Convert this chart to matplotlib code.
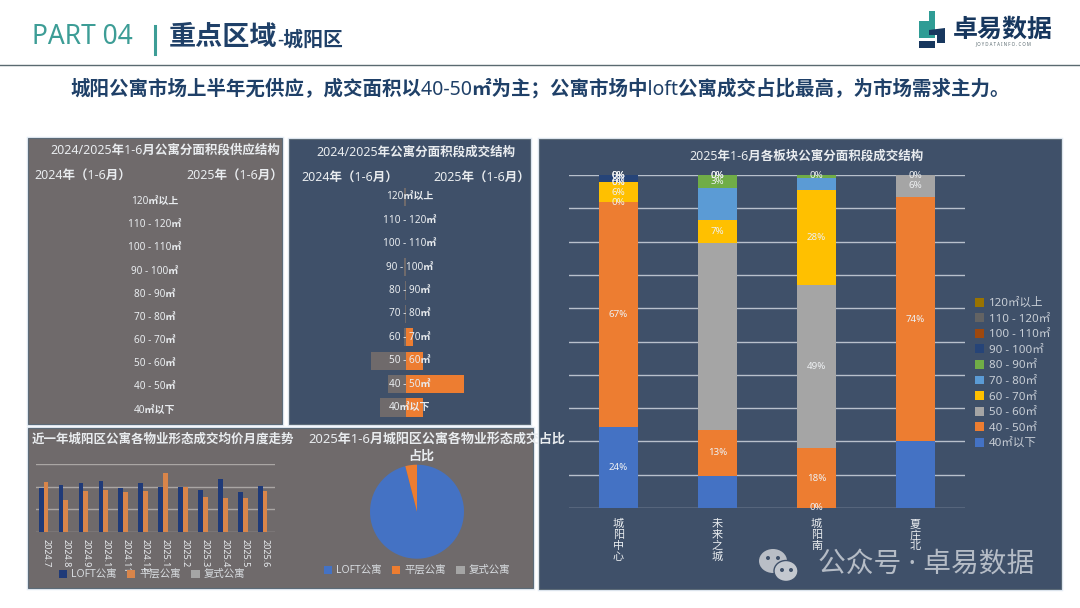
import matplotlib

matplotlib.use("Agg")
import matplotlib.pyplot as plt
from matplotlib.patches import Rectangle, Polygon, Ellipse

plt.rcParams["font.family"] = ["Noto Sans", "Noto Sans CJK SC", "DejaVu Sans"]

W, H = 1080, 608

# area bands, bottom row first
area_bands = [
    "40㎡以下", "40 - 50㎡", "50 - 60㎡", "60 - 70㎡", "70 - 80㎡",
    "80 - 90㎡", "90 - 100㎡", "100 - 110㎡", "110 - 120㎡", "120㎡以上",
]

# supply structure (nothing was supplied)
supply_2024 = [0, 0, 0, 0, 0, 0, 0, 0, 0, 0]
supply_2025 = [0, 0, 0, 0, 0, 0, 0, 0, 0, 0]

# deal structure, %
deal_2024 = [18, 12.4, 24, 1.4, 0.7, 0.7, 1.4, 0.2, 0, 1.4]
deal_2025 = [11.4, 40, 12, 4.5, 0, 0, 0, 0, 0, 0]

# monthly prices
months = [
    "2024.7", "2024.8", "2024.9", "2024.1", "2024.11", "2024.12",
    "2025.1", "2025.2", "2025.3", "2025.4", "2025.5", "2025.6",
]
price_loft = [19260, 20740, 21630, 22520, 19560, 21630, 19700, 19850, 18520, 23260, 17780, 20300]
price_flat = [21930, 14070, 18220, 18370, 17480, 18070, 26070, 19850, 15410, 15110, 15110, 18220]
price_duplex = [0, 0, 0, 0, 0, 0, 0, 0, 0, 0, 0, 0]

# property type share
type_names = ["LOFT公寓", "平层公寓", "复式公寓"]
type_share = [96, 4, 0]

# stacked structure by sub-area, %
districts = ["城阳中心", "未来之城", "城阳南", "夏庄北"]
stack_values = [
    [24.3, 9.7, 0, 20],
    [67.5, 13.8, 18, 73.5],
    [0, 56, 49, 6.5],
    [6, 7, 28.5, 0],
    [0, 9.5, 3.6, 0],
    [0, 4, 0.9, 0],
    [2.2, 0, 0, 0],
    [0, 0, 0, 0],
    [0, 0, 0, 0],
    [0, 0, 0, 0],
]
stack_labels = [
    ["24%", "", "0%", ""],
    ["67%", "13%", "18%", "74%"],
    ["0%", "", "49%", "6%"],
    ["6%", "7%", "28%", ""],
    ["0%", "", "", ""],
    ["0%", "3%", "", ""],
    ["2%", "0%", "", ""],
    ["0%", "", "", ""],
    ["0%", "", "", ""],
    ["0%", "0%", "0%", "0%"],
]
stack_colors = [
    "#4472c4", "#ed7d31", "#a5a5a5", "#ffc000", "#5b9bd5",
    "#70ad47", "#264478", "#9e480e", "#636363", "#997300",
]

GRAY = "#6f6a6b"
SLATE = "#3f5069"
TEXT = "#e9ecef"
NAVY = "#1f4068"
TEAL = "#3d9d96"


def px_axes(x0, y0, x1, y1):
    ax = fig.add_axes([x0 / W, 1 - y1 / H, (x1 - x0) / W, (y1 - y0) / H])
    ax.patch.set_alpha(0)
    return ax


def panel(x0, y0, x1, y1, color):
    bg.add_patch(Rectangle((x0, y0), x1 - x0, y1 - y0, fc="none", ec="#e4ecf4", lw=2.5))
    rect = Rectangle((x0, y0), x1 - x0, y1 - y0, fc=color, ec="#5c6b78", lw=0.8)
    bg.add_patch(rect)
    return rect


def clipped_text(x, y, s, rect, **kw):
    t = bg.text(x, y, s, color=TEXT, fontweight="bold", va="center", **kw)
    t.set_clip_path(rect)
    return t


def butterfly(ax, left, right, center_px, label_px, px_per_unit, span):
    rows = range(len(area_bands))
    ax.barh(rows, [-v for v in left], height=0.78, color="#6f6a6b")
    ax.barh(rows, right, height=0.78, color="#ed7d31")
    ax.set_xlim(-(center_px - span[0]) / px_per_unit, (span[1] - center_px) / px_per_unit)
    ax.set_ylim(-0.5, 9.5)
    ax.axis("off")
    for i, name in enumerate(area_bands):
        ax.text((label_px - center_px) / px_per_unit, i, name, color=TEXT, fontsize=7.2,
                fontweight="bold", ha="center", va="center")


fig = plt.figure(figsize=(W / 100, H / 100), dpi=100, facecolor="white")
bg = fig.add_axes([0, 0, 1, 1])
bg.set_xlim(0, W)
bg.set_ylim(H, 0)
bg.axis("off")

# header
bg.text(32, 37, "PART 04", color=TEAL, fontsize=19, fontweight="bold", va="center")
bg.plot([155, 155], [26, 54], color=TEAL, lw=2.2)
bg.text(169, 38, "重点区域", color=NAVY, fontsize=19.5, fontweight="bold", va="center")
bg.text(277, 41, "-城阳区", color=NAVY, fontsize=14.3, fontweight="bold", va="center", ha="left")
bg.plot([0, W], [64.5, 64.5], color="#5a6a70", lw=1)
bg.text(540, 89, "城阳公寓市场上半年无供应，成交面积以40-50㎡为主；公寓市场中loft公寓成交占比最高，为市场需求主力。",
        color=NAVY, fontsize=14, fontweight="bold", ha="center", va="center")

# logo
bg.add_patch(Polygon([(919, 21), (929, 21), (929, 11), (935, 11), (935, 38), (919, 38)], fc="#2f9c95"))
bg.add_patch(Polygon([(929, 30), (945, 28), (945, 43), (937, 43), (937, 35), (929, 35)], fc="#17375e"))
bg.add_patch(Polygon([(919, 41), (935, 41), (935, 48), (919, 48)], fc="#17375e"))
bg.text(1003, 30, "卓易数据", color="#17375e", fontsize=18, fontweight="bold", ha="center", va="center")
bg.text(1003, 44, "J O Y D A T A I N F O . C O M", color="#5a6a70", fontsize=3.2, ha="center", va="center")

# panels
rect1 = panel(28, 138, 282, 424, GRAY)
rect2 = panel(289, 139, 530, 424, SLATE)
rect3 = panel(28, 428, 533, 588, GRAY)
rect4 = panel(539, 139, 1061, 589, SLATE)

# supply panel
clipped_text(50, 150, "2024/2025年1-6月公寓分面积段供应结构", rect1, fontsize=9)
clipped_text(34, 176, "2024年（1-6月）", rect1, fontsize=9)
clipped_text(186, 176, "2025年（1-6月）", rect1, fontsize=9)
ax1 = px_axes(28, 190, 282, 421.6)
butterfly(ax1, supply_2024, supply_2025, 155, 155, 1.45, (28, 282))

# deal panel
clipped_text(416, 152, "2024/2025年公寓分面积段成交结构", rect2, fontsize=9, ha="center")
clipped_text(301, 178, "2024年（1-6月）", rect2, fontsize=9)
clipped_text(433, 178, "2025年（1-6月）", rect2, fontsize=9)
ax2 = px_axes(289, 185.3, 530, 419.2)
butterfly(ax2, deal_2024, deal_2025, 406, 410, 1.45, (289, 530))

# monthly price panel
clipped_text(32, 439, "近一年城阳区公寓各物业形态成交均价月度走势", rect3, fontsize=9)
ax3 = px_axes(36, 464, 275, 531.7)
x = list(range(len(months)))
bw = 0.24
ax3.set_axisbelow(True)
ax3.bar([i - bw for i in x], price_loft, bw, color="#1f3a78", label=type_names[0])
ax3.bar(x, price_flat, bw, color="#d9854a", label=type_names[1])
ax3.bar([i + bw for i in x], price_duplex, bw, color="#a5a5a5", label=type_names[2])
ax3.set_xlim(-0.5, 11.5)
ax3.set_ylim(0, 30000)
ax3.set_yticks([0, 10000, 20000, 30000])
ax3.set_yticklabels([])
ax3.grid(axis="y", color="#aaa6a4", lw=1)
ax3.set_xticks(x)
ax3.set_xticklabels(months, rotation=270, fontsize=6.5, color=TEXT)
ax3.tick_params(length=0, pad=5)
for s in ax3.spines.values():
    s.set_visible(False)
ax3.legend(loc="center", bbox_to_anchor=(116 / 239, -43 / 67.7), ncol=3, frameon=False,
           fontsize=7.5, labelcolor="#d8dce0", handlelength=0.8, handleheight=0.8,
           columnspacing=1.0, handletextpad=0.4)

# share panel
clipped_text(308, 439, "2025年1-6月城阳区公寓各物业形态成交占比", rect3, fontsize=9.4)
clipped_text(421, 456, "占比", rect3, fontsize=9.4, ha="center")
ax4 = px_axes(370, 464.7, 464, 558.7)
wedges, _ = ax4.pie(type_share, startangle=90, counterclock=False,
                    colors=["#4472c4", "#ed7d31", "#a5a5a5"], radius=1)
ax4.set_xlim(-1, 1)
ax4.set_ylim(-1, 1)
ax4.legend(wedges, type_names, loc="center", bbox_to_anchor=(0.5, -0.13), ncol=3, frameon=False,
           fontsize=7.5, labelcolor="#d8dce0", handlelength=0.8, handleheight=0.8,
           columnspacing=1.0, handletextpad=0.4)

# stacked panel
clipped_text(807, 156, "2025年1-6月各板块公寓分面积段成交结构", rect4, fontsize=9, ha="center")
ax5 = px_axes(569, 175, 965, 508)
x5 = list(range(len(districts)))
bottom = [0, 0, 0, 0]
for name, vals, labs, col in zip(area_bands, stack_values, stack_labels, stack_colors):
    bars = ax5.bar(x5, vals, 0.404, bottom=bottom, color=col, label=name)
    ax5.bar_label(bars, labels=labs, label_type="center", color="#eef0f2", fontsize=7)
    bottom = [b + v for b, v in zip(bottom, vals)]
ax5.set_axisbelow(True)
ax5.set_xlim(-0.5, 3.5)
ax5.set_ylim(0, 100)
ax5.set_yticks(range(0, 101, 10))
ax5.set_yticklabels([])
ax5.grid(axis="y", color="#b8c0cc", lw=1)
ax5.set_xticks(x5)
ax5.set_xticklabels(["\n".join(d) for d in districts], fontsize=8, color=TEXT, linespacing=1.0)
ax5.tick_params(length=0, pad=8)
for s in ax5.spines.values():
    s.set_visible(False)
handles, labels = ax5.get_legend_handles_labels()
ax5.legend(handles[::-1], labels[::-1], loc="center left", bbox_to_anchor=(406 / 396, 0.5 - (373.5 - 341.5) / 333),
           frameon=False, fontsize=8.3, labelcolor="#c8ced6", handlelength=0.8, handleheight=0.8,
           labelspacing=0.36, handletextpad=0.4, borderpad=0, borderaxespad=0)

# watermark
mark = fig.add_axes([0, 0, 1, 1])
mark.set_xlim(0, W)
mark.set_ylim(H, 0)
mark.axis("off")
mark.add_patch(Ellipse((773, 561), 28, 24, fc="#b9bec6"))
mark.add_patch(Ellipse((786, 571), 24, 21, fc="#c3c8cf", ec=SLATE, lw=1))
for cx, cy in [(768, 558), (778, 558), (782, 570), (791, 570)]:
    mark.add_patch(Ellipse((cx, cy), 4, 4, fc=SLATE))
mark.text(926, 565, "公众号 · 卓易数据", color="#b5bcc6", fontsize=20, ha="center", va="center")

fig.savefig("out.png", dpi=100)
